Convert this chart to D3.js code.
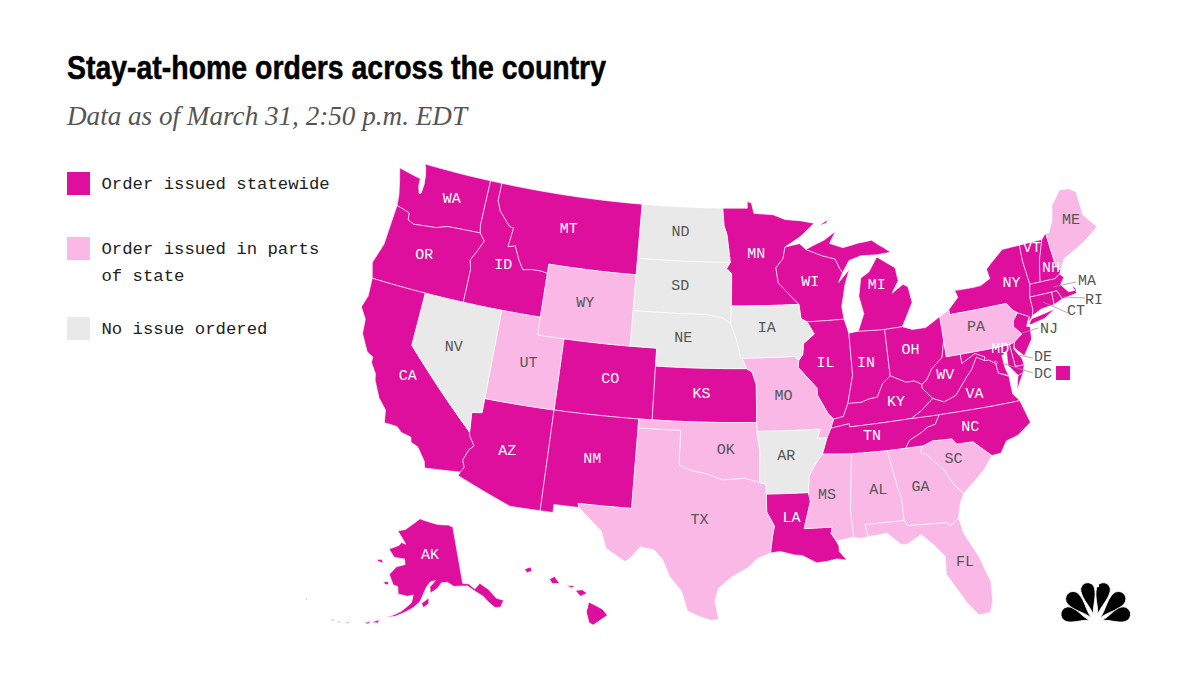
<!DOCTYPE html>
<html>
<head>
<meta charset="utf-8">
<script src="https://cdn.jsdelivr.net/npm/d3@7/dist/d3.min.js"></script>
<style>
  html, body { margin: 0; padding: 0; background: #fff; }
  svg { display: block; }
  .mono { font-family: "Liberation Mono", "DejaVu Sans Mono", monospace; }
</style>
</head>
<body>
<svg id="chart" width="1200" height="675"></svg>
<script>
var statewide = ['WA','OR','CA','ID','MT','CO','AZ','NM','KS','MN','WI','IL','IN','MI','OH','KY','TN','WV','VA','NC','LA','NY','VT','NH','MA','CT','RI','NJ','DE','MD','DC','AK','HI'];
var partial = ['UT','WY','MO','OK','TX','MS','AL','GA','SC','FL','PA','ME'];
var noOrder = ['NV','ND','SD','NE','IA','AR'];

var legendLabels = [['Order issued statewide'], ['Order issued in parts', 'of state'], ['No issue ordered']];
var titleText = 'Stay-at-home orders across the country';
var subtitleText = 'Data as of March 31, 2:50 p.m. EDT';

// state outlines as lon/lat rings, rough but hand checked against the picture
var stateShapes = {
  WA: [[[-124.7,48.38],[-124.4,47.7],[-124.1,46.9],[-124,46.3],[-123.4,46.2],[-122.9,46.1],[-122.8,45.7],[-122.3,45.55],[-121.2,45.65],[-120.5,45.7],[-119.6,45.92],[-119,45.95],[-116.92,46],[-117.04,46.42],[-117.03,49],[-122.76,49],[-122.6,48.8],[-122.45,48.4],[-122.35,47.9],[-122.4,47.35],[-122.55,47.3],[-122.75,47.7],[-122.8,48.13],[-123.2,48.17]]],
  OR: [[[-124,46.3],[-123.4,46.2],[-122.9,46.1],[-122.8,45.7],[-122.3,45.55],[-121.2,45.65],[-120.5,45.7],[-119.6,45.92],[-119,45.95],[-116.92,46],[-116.46,45.6],[-116.85,44.95],[-117.22,44.4],[-117.03,43.85],[-117.03,42],[-124.2,42],[-124.55,42.84],[-124.1,44]]],
  CA: [[[-124.2,42],[-120,42],[-120,39],[-114.63,35],[-114.57,34.8],[-114.14,34.3],[-114.43,34.05],[-114.72,33.4],[-114.52,33.03],[-114.72,32.72],[-117.12,32.53],[-117.25,32.9],[-117.9,33.6],[-118.4,33.75],[-118.5,34.03],[-119.2,34.15],[-119.6,34.42],[-120.5,34.45],[-120.65,35.15],[-121.3,35.7],[-121.9,36.6],[-122,36.95],[-122.5,37.5],[-122.5,37.8],[-123,38],[-123.7,38.9],[-123.8,39.7],[-124.35,40.3],[-124.1,41]]],
  NV: [[[-120,42],[-114.04,42],[-114.04,36.2],[-114.75,36.1],[-114.63,35],[-120,39]]],
  ID: [[[-117.03,49],[-116.05,49],[-116.05,48],[-115.7,47.45],[-114.7,46.7],[-114.35,46.65],[-114.5,45.56],[-113.95,45.7],[-113.45,44.95],[-113,44.45],[-112.3,44.55],[-111.5,44.55],[-111.05,44.48],[-111.05,42],[-117.03,42],[-117.03,43.85],[-117.22,44.4],[-116.85,44.95],[-116.46,45.6],[-116.92,46],[-117.04,46.42]]],
  MT: [[[-116.05,49],[-104.05,49],[-104.05,45],[-111.05,45],[-111.05,44.48],[-111.5,44.55],[-112.3,44.55],[-113,44.45],[-113.45,44.95],[-113.95,45.7],[-114.5,45.56],[-114.35,46.65],[-114.7,46.7],[-115.7,47.45],[-116.05,48]]],
  WY: [[[-111.05,45],[-104.05,45],[-104.05,41],[-111.05,41]]],
  UT: [[[-114.04,42],[-111.05,42],[-111.05,41],[-109.05,41],[-109.05,37],[-114.04,37]]],
  CO: [[[-109.05,41],[-102.05,41],[-102.05,37],[-109.05,37]]],
  AZ: [[[-114.04,37],[-109.05,37],[-109.05,31.33],[-111.07,31.33],[-114.81,32.5],[-114.72,32.72],[-114.52,33.03],[-114.72,33.4],[-114.43,34.05],[-114.14,34.3],[-114.57,34.8],[-114.63,35],[-114.75,36.1],[-114.04,36.2]]],
  NM: [[[-109.05,37],[-103,37],[-103.04,32],[-106.62,32],[-106.53,31.78],[-108.2,31.78],[-108.2,31.33],[-109.05,31.33]]],
  ND: [[[-104.05,49],[-97.23,49],[-97.1,48],[-96.85,47.5],[-96.56,45.94],[-104.05,45.94]]],
  SD: [[[-104.05,45.94],[-96.56,45.94],[-96.85,45.6],[-96.45,45.3],[-96.45,43.5],[-96.5,42.5],[-97.2,42.85],[-98.5,43],[-104.05,43]]],
  NE: [[[-104.05,43],[-98.5,43],[-97.2,42.85],[-96.5,42.5],[-96.1,41.7],[-95.85,41],[-95.31,40],[-102.05,40],[-102.05,41],[-104.05,41]]],
  KS: [[[-102.05,40],[-95.31,40],[-94.9,39.8],[-94.61,39.1],[-94.62,37],[-102.05,37]]],
  OK: [[[-103,37],[-94.62,37],[-94.62,36.5],[-94.43,35.4],[-94.48,33.64],[-95.5,33.9],[-97,33.8],[-98,34.1],[-99.2,34.3],[-100,34.56],[-100,36.5],[-103,36.5]]],
  TX: [[[-103,36.5],[-100,36.5],[-100,34.56],[-99.2,34.3],[-98,34.1],[-97,33.8],[-95.5,33.9],[-94.48,33.64],[-94.04,33.55],[-94.04,32],[-93.55,31.2],[-93.7,30.6],[-93.85,29.7],[-94.7,29.4],[-95.3,28.9],[-96.4,28.35],[-97.2,27.7],[-97.4,27],[-97.15,25.96],[-97.6,25.9],[-98.3,26.1],[-99.1,26.4],[-99.5,27.5],[-100.3,28.3],[-100.8,29.25],[-101.4,29.77],[-102.3,29.88],[-102.8,29.3],[-103.2,29],[-104.5,29.65],[-104.9,30.6],[-106.53,31.78],[-106.62,32],[-103.04,32]]],
  MN: [[[-97.23,49],[-95.15,49],[-95.15,49.38],[-94.8,49.3],[-94.6,48.7],[-93,48.6],[-92,48.3],[-90.8,48.2],[-89.6,48],[-90.8,47.3],[-92.1,46.75],[-92.3,46.1],[-92.9,45.6],[-92.75,44.75],[-91.2,43.5],[-96.45,43.5],[-96.45,45.3],[-96.85,45.6],[-96.56,45.94],[-96.85,47.5],[-97.1,48]]],
  IA: [[[-96.45,43.5],[-91.2,43.5],[-91.1,42.7],[-90.65,42.5],[-90.15,41.8],[-91,41.3],[-91.1,40.7],[-91.42,40.38],[-91.73,40.61],[-95.77,40.58],[-95.85,41],[-96.1,41.7],[-96.5,42.5]]],
  MO: [[[-95.77,40.58],[-91.73,40.61],[-91.42,40.38],[-91.5,40],[-90.75,39.3],[-90.2,38.8],[-90.2,38.4],[-89.5,37.3],[-89.15,37],[-89.4,36.5],[-89.7,36],[-90.37,36],[-90.15,36.5],[-94.62,36.5],[-94.62,37],[-94.61,39.1],[-94.9,39.8],[-95.31,40]]],
  AR: [[[-94.62,36.5],[-90.15,36.5],[-90.37,36],[-89.7,36],[-90.1,35.1],[-90.6,34.6],[-91.1,33.9],[-91.2,33],[-94.04,33],[-94.04,33.55],[-94.48,33.64],[-94.43,35.4]]],
  LA: [[[-94.04,33],[-91.2,33],[-91.1,32.5],[-91.6,31],[-89.75,31],[-89.85,30.65],[-89.55,30.2],[-89.4,29.9],[-89.4,29.6],[-88.95,29.1],[-89.6,29.2],[-90.2,29.1],[-90.9,29.05],[-91.8,29.5],[-92.3,29.55],[-93.2,29.77],[-93.85,29.7],[-93.7,30.6],[-93.55,31.2],[-94.04,32]]],
  MS: [[[-90.1,35.1],[-88.2,35],[-88.1,34.9],[-88.47,31.9],[-88.4,30.35],[-89.55,30.2],[-89.85,30.65],[-89.75,31],[-91.6,31],[-91.1,32.5],[-91.2,33],[-91.1,33.9],[-90.6,34.6]]],
  AL: [[[-88.2,35],[-85.6,34.98],[-85.18,32.87],[-85,32.3],[-85,31],[-87.6,31],[-87.45,30.3],[-88,30.25],[-88.4,30.35],[-88.47,31.9],[-88.1,34.9]]],
  GA: [[[-85.6,34.98],[-83.1,35],[-83.35,34.7],[-82.9,34.45],[-81.9,33.5],[-81.4,32.6],[-80.85,32.05],[-81.2,31.5],[-81.45,30.72],[-82.05,30.36],[-82.2,30.57],[-84.86,30.7],[-85,31],[-85,32.3],[-85.18,32.87]]],
  FL: [[[-87.6,31],[-85,31],[-84.86,30.7],[-82.2,30.57],[-82.05,30.36],[-81.45,30.72],[-81.25,29.8],[-80.55,28.45],[-80.05,26.9],[-80.15,25.75],[-80.4,25.2],[-81.1,25.15],[-81.7,25.9],[-82.15,26.7],[-82.75,27.7],[-82.65,28.7],[-83.3,29.45],[-84,30.1],[-85,29.65],[-85.4,29.7],[-86.2,30.4],[-87.45,30.3]]],
  SC: [[[-83.1,35],[-82.4,35.2],[-81.05,35.15],[-80.8,34.82],[-79.67,34.8],[-78.55,33.86],[-79.2,33.2],[-79.9,32.7],[-80.85,32.05],[-81.4,32.6],[-81.9,33.5],[-82.9,34.45],[-83.35,34.7]]],
  NC: [[[-84.32,34.99],[-83.1,35],[-82.4,35.2],[-81.05,35.15],[-80.8,34.82],[-79.67,34.8],[-78.55,33.86],[-77.9,33.9],[-77.4,34.5],[-76.5,34.7],[-75.5,35.25],[-75.9,36.55],[-81.68,36.59],[-82.05,36.1],[-82.6,36],[-83.1,35.75],[-84,35.4]]],
  TN: [[[-90.1,35.1],[-88.2,35],[-85.6,34.98],[-84.32,34.99],[-84,35.4],[-83.1,35.75],[-82.6,36],[-82.05,36.1],[-81.68,36.59],[-83.67,36.6],[-88.07,36.5],[-88.07,36.68],[-89.4,36.5],[-89.7,36]]],
  KY: [[[-89.4,36.5],[-88.07,36.68],[-88.07,36.5],[-83.67,36.6],[-82.9,36.95],[-81.97,37.54],[-82.6,38.17],[-82.6,38.4],[-83.1,38.65],[-83.7,38.63],[-84.8,39.1],[-85.4,38.73],[-85.9,38],[-86.5,37.95],[-87.1,37.8],[-88.05,37.8],[-88.45,37.1],[-89.15,37]]],
  VA: [[[-83.67,36.6],[-81.68,36.59],[-75.9,36.55],[-76.3,37],[-76.3,37.6],[-76.3,38],[-77,38.3],[-77.05,38.85],[-77.5,39.12],[-77.83,39.13],[-78.35,39.4],[-78.87,38.76],[-79.3,38.42],[-80.3,37.5],[-81.2,37.25],[-81.97,37.54],[-82.9,36.95]],
       [[-75.95,37.15],[-75.25,38.03],[-75.65,37.95]]],
  WV: [[[-81.97,37.54],[-81.2,37.25],[-80.3,37.5],[-79.3,38.42],[-78.87,38.76],[-78.35,39.4],[-77.83,39.13],[-77.72,39.32],[-78.4,39.62],[-79.48,39.2],[-79.48,39.72],[-80.52,39.72],[-80.52,40.64],[-80.85,39.7],[-81.7,39.2],[-82.2,38.6],[-82.6,38.4],[-82.6,38.17]]],
  OH: [[[-84.8,41.7],[-83.45,41.73],[-82.7,41.5],[-81.7,41.5],[-80.52,41.98],[-80.52,40.64],[-80.85,39.7],[-81.7,39.2],[-82.2,38.6],[-82.6,38.4],[-83.1,38.65],[-83.7,38.63],[-84.8,39.1]]],
  IN: [[[-87.53,41.7],[-86.8,41.76],[-84.8,41.7],[-84.8,39.1],[-85.4,38.73],[-85.9,38],[-86.5,37.95],[-87.1,37.8],[-88.05,37.8],[-87.53,39.35]]],
  IL: [[[-90.65,42.5],[-87.8,42.5],[-87.53,41.7],[-87.53,39.35],[-88.05,37.8],[-88.45,37.1],[-89.15,37],[-89.5,37.3],[-90.2,38.4],[-90.2,38.8],[-90.75,39.3],[-91.5,40],[-91.42,40.38],[-91.1,40.7],[-91,41.3],[-90.15,41.8]]],
  WI: [[[-92.75,44.75],[-92.9,45.6],[-92.3,46.1],[-92.1,46.75],[-90.9,46.9],[-90.4,46.55],[-89.1,46.13],[-88.1,45.9],[-87.8,45.35],[-87.6,45.1],[-88,44.55],[-87.05,45.25],[-87.5,44.4],[-87.9,43.2],[-87.8,42.5],[-90.65,42.5],[-91.1,42.7],[-91.2,43.5]]],
  MI: [[[-86.8,41.76],[-84.8,41.7],[-83.45,41.73],[-83.15,42.1],[-82.45,43],[-82.6,43.9],[-82.95,44.07],[-83.9,43.65],[-83.3,44.3],[-83.4,45.05],[-84.75,45.78],[-85.5,45],[-86.2,44.7],[-86.5,43.7],[-86.25,42.7]],
       [[-90.4,46.55],[-89.1,46.13],[-88.1,45.9],[-87.8,45.35],[-87.6,45.1],[-87,45.75],[-86,45.95],[-84.75,45.9],[-83.6,45.95],[-84.1,46.25],[-84.5,46.45],[-85,46.75],[-86.1,46.67],[-87.4,46.5],[-88.45,46.8],[-87.9,47.45],[-88.9,47],[-89.8,46.75]],
       [[-89.2,47.85],[-88.45,48.15],[-88.6,47.95]]],
  PA: [[[-80.52,41.98],[-79.76,42.27],[-79.76,42],[-75.35,42],[-75.05,41.6],[-74.7,41.36],[-75.15,40.95],[-75.2,40.65],[-74.73,40.15],[-75.4,39.8],[-75.79,39.72],[-80.52,39.72]]],
  NY: [[[-79.76,42.27],[-79.76,42],[-75.35,42],[-75.05,41.6],[-74.7,41.36],[-73.9,41],[-74,40.7],[-73.65,41],[-73.5,41.3],[-73.5,42.05],[-73.27,42.75],[-73.35,43.6],[-73.4,44.1],[-73.34,45.01],[-74.75,45],[-75.9,44.35],[-76.3,44.1],[-76.2,43.55],[-77,43.27],[-77.6,43.25],[-79.05,43.27],[-78.9,42.87]],
       [[-74.03,40.6],[-73.75,40.85],[-72.6,40.98],[-71.9,41.07],[-72.8,40.7],[-73.9,40.55]]],
  NJ: [[[-74.7,41.36],[-73.9,41],[-74.25,40.5],[-74,40.45],[-74.1,39.75],[-74.9,38.93],[-75.5,39.5],[-75.4,39.8],[-74.73,40.15],[-75.2,40.65],[-75.15,40.95]]],
  DE: [[[-75.79,39.72],[-75.4,39.8],[-75.55,39.45],[-75.1,38.8],[-75.05,38.45],[-75.7,38.46]]],
  MD: [[[-79.48,39.72],[-75.79,39.72],[-75.7,38.46],[-75.05,38.45],[-75.25,38.03],[-75.65,37.95],[-76.2,38.6],[-76.1,39.4],[-76.5,39.2],[-76.45,38.5],[-76.3,38.05],[-77,38.3],[-77.05,38.85],[-77.5,39.12],[-77.83,39.13],[-77.72,39.32],[-78.4,39.62],[-79.48,39.2]]],
  DC: [[[-77.12,38.93],[-77.04,39],[-76.91,38.89],[-77.04,38.79]]],
  CT: [[[-73.65,41],[-73.5,41.3],[-73.5,42.05],[-71.8,42.02],[-71.85,41.32],[-72.9,41.25]]],
  RI: [[[-71.8,42.02],[-71.38,42.02],[-71.15,41.5],[-71.85,41.32]]],
  MA: [[[-73.5,42.05],[-73.27,42.75],[-71.3,42.7],[-70.85,42.88],[-70.6,42.65],[-71,42.3],[-70.55,41.8],[-70.05,41.78],[-70.2,42.07],[-69.95,41.9],[-70,41.6],[-70.65,41.55],[-71.15,41.5],[-71.38,42.02],[-71.8,42.02]]],
  VT: [[[-73.27,42.75],[-72.46,42.73],[-72.1,43.9],[-71.5,45.01],[-73.34,45.01],[-73.4,44.1],[-73.35,43.6]]],
  NH: [[[-72.46,42.73],[-71.3,42.7],[-70.85,42.88],[-70.7,43.07],[-70.98,43.4],[-71.08,45.3],[-71.5,45.01],[-72.1,43.9]]],
  ME: [[[-70.7,43.07],[-70.2,43.65],[-69.1,44],[-68.2,44.3],[-67,44.85],[-67.45,45.3],[-67.8,45.7],[-67.8,47.07],[-68.3,47.35],[-69.05,47.43],[-70,46.7],[-70.3,45.9],[-70.85,45.25],[-71.08,45.3],[-70.98,43.4]]],
  AK: [[[-141,69.65],[-143,70.1],[-148,70.4],[-152,70.85],[-156.5,71.35],[-160,70.3],[-163,69.3],[-166.2,68.85],[-164,68],[-161.8,66.9],[-163.7,67.1],[-164.5,66.55],[-168.1,65.65],[-165.5,64.5],[-161.5,64.5],[-161,63.6],[-164,63.05],[-166,61.6],[-164,60],[-162.5,59.9],[-162,58.7],[-159,58.5],[-157.2,58.8],[-157.6,57.5],[-160.5,55.9],[-163,55],[-164.8,54.6],[-162,55],[-159.5,55.8],[-157,56.7],[-155,57.8],[-153.9,59.2],[-153,60.2],[-151.8,61],[-150,61.2],[-151.9,60.2],[-151.8,59.2],[-149.5,59.9],[-148,60.8],[-146,60.8],[-144,60],[-141.5,59.9],[-139.5,59.7],[-137.5,58.6],[-135.5,57.5],[-134,56],[-133,55.2],[-131.5,55],[-130,55.9],[-131.8,56.6],[-133.4,58.4],[-135.5,59.7],[-137.5,59],[-139,60],[-141,60.3]],
       [[-154.5,57.5],[-152.3,58.4],[-152.3,57.5],[-153.9,56.8]],
       [[-171.8,63.4],[-170,63.7],[-168.8,63.2],[-170.5,63.2]],
       [[-167.4,60.2],[-166,60.4],[-165.5,60],[-166.5,59.8]],
       [[-168.2,53.3],[-166.2,54],[-166.3,53.45]],
       [[-170,52.9],[-168.3,53.5],[-168.9,52.9]],
       [[-174.9,52.05],[-174,52.4],[-174.1,52.1]],
       [[-177,51.7],[-176.2,52],[-176.3,51.7]],
       [[-178.9,51.6],[-177.8,51.9],[-178,51.65]],
       [[-187.2,52.95],[-186.7,52.98],[-186.8,52.75]]],
  HI: [[[-155.9,20.25],[-155.1,19.85],[-154.8,19.5],[-155.65,18.95],[-155.9,19.1],[-156.05,19.7]],
       [[-156.7,20.9],[-156.3,20.95],[-156,20.75],[-156.4,20.58]],
       [[-157.3,21.2],[-156.75,21.17],[-156.9,21.05]],
       [[-158.25,21.55],[-157.95,21.7],[-157.65,21.3],[-158.1,21.3]],
       [[-159.75,22.1],[-159.4,22.23],[-159.3,22],[-159.6,21.9]]]
};

// where each state code sits, in lon/lat
var labelPlaces = {
  WA:[-119.85,47.55],OR:[-120.85,44.1],CA:[-119.75,37.35],NV:[-117,39.5],ID:[-114.6,44.55],MT:[-109.9,47.2],WY:[-107.8,43.2],UT:[-111.4,39.45],
  AZ:[-111.85,34.4],CO:[-105.3,39.15],NM:[-106,34.6],ND:[-100.7,47.65],SD:[-100.5,44.6],NE:[-100.1,41.7],KS:[-98.6,38.65],OK:[-96.8,35.55],
  TX:[-98.5,31.6],MN:[-94.45,46.45],IA:[-93.75,42.3],MO:[-92.65,38.5],AR:[-92.6,35.15],LA:[-92.4,31.7],WI:[-90.2,44.8],IL:[-89.45,40.2],
  MS:[-89.95,32.85],AL:[-86.5,32.9],TN:[-86.55,35.95],KY:[-84.6,37.7],IN:[-86.45,40.05],OH:[-83.05,40.45],MI:[-85,44.3],GA:[-83.65,32.8],
  FL:[-81.45,28.3],SC:[-81.15,34.1],NC:[-79.65,35.7],VA:[-78.95,37.5],WV:[-80.8,38.8],PA:[-77.95,41.1],NY:[-74.6,43.1],VT:[-72.4,44.75],
  NH:[-71.35,43.4],ME:[-68.8,45.7],MD:[-76.5,39.65],AK:[-151.8,65.6],HI:[-156.4,20.2]
};

// state codes that sit outside the map with a leader line, [code, text x, text y, line x1, y1, x2, y2]
var callouts = [
  ['MA',1087,280,1076,282,1053,287],
  ['RI',1094,299,1085,298,1063,297],
  ['CT',1076,310,1068,313,1043,302],
  ['NJ',1049,328,1038,328,1022,333],
  ['DE',1043,356,1033,358,1018,355],
  ['DC',1043,373,1033,373,1002,363]
];

var colorDark = '#de0f9c', colorLight = '#f9b8e5', colorGray = '#e9e9e9';
var legendColors = [colorDark, colorLight, colorGray];

var svg = d3.select('#chart');

var lower48 = d3.geoConicEqualArea().parallels([29.5, 45.5]).rotate([96, 0]).center([-0.6, 38.7])
  .scale(1020).translate([729, 392]);
var alaska = d3.geoConicEqualArea().parallels([55, 65]).rotate([152.5, 0]).center([-3.5, 58.5])
  .scale(350).translate([417, 597]);
var hawaii = d3.geoConicEqualArea().parallels([8, 18]).rotate([157, 0]).center([-3, 19.9])
  .scale(1020).translate([520, 608]);

function projectionFor(code) {
  if (code === 'AK') return alaska;
  if (code === 'HI') return hawaii;
  return lower48;
}

// long edges have to follow the parallels, so chop them up before d3 sees them
function densify(ring) {
  var out = [];
  ring.forEach(function (p, i) {
    var q = ring[(i + 1) % ring.length];
    var steps = Math.ceil(Math.abs(q[0] - p[0]));
    if (steps < 1) steps = 1;
    for (var s = 0; s < steps; s++) {
      out.push([p[0] + (q[0] - p[0]) * s / steps, p[1] + (q[1] - p[1]) * s / steps]);
    }
  });
  return out;
}

function toPolygon(ring) {
  var pts = densify(ring);
  pts.push(pts[0]);
  // d3 wants clockwise rings, otherwise it fills the rest of the globe
  if (d3.geoArea({type: 'Polygon', coordinates: [pts]}) > 2 * Math.PI) pts.reverse();
  return [pts];
}

function statusOf(code) {
  if (statewide.indexOf(code) > -1) return 0;
  if (partial.indexOf(code) > -1) return 1;
  return 2;
}

var codes = statewide.concat(partial, noOrder);

svg.append('g').selectAll('path').data(codes)
  .enter().append('path')
  .attr('d', function (code) {
    var geo = {type: 'MultiPolygon', coordinates: stateShapes[code].map(toPolygon)};
    return d3.geoPath(projectionFor(code))(geo);
  })
  .attr('fill', function (code) { return legendColors[statusOf(code)]; })
  .attr('stroke', '#fff')
  .attr('stroke-width', 0.6)
  .attr('stroke-linejoin', 'round');

// state codes
var labelColors = ['#fff', '#555', '#555'];
svg.append('g').selectAll('text').data(Object.keys(labelPlaces))
  .enter().append('text')
  .attr('class', 'mono')
  .attr('x', function (code) { return projectionFor(code)(labelPlaces[code])[0]; })
  .attr('y', function (code) { return projectionFor(code)(labelPlaces[code])[1]; })
  .attr('dy', '0.35em')
  .attr('text-anchor', 'middle')
  .attr('font-size', 15)
  .attr('fill', function (code) { return labelColors[statusOf(code)]; })
  .text(function (code) { return code; });

// leader lines
svg.append('g').selectAll('line').data(callouts)
  .enter().append('line')
  .attr('x1', function (d) { return d[3]; })
  .attr('y1', function (d) { return d[4]; })
  .attr('x2', function (d) { return d[5]; })
  .attr('y2', function (d) { return d[6]; })
  .attr('stroke', '#999')
  .attr('stroke-width', 0.8);

svg.append('g').selectAll('text').data(callouts)
  .enter().append('text')
  .attr('class', 'mono')
  .attr('x', function (d) { return d[1]; })
  .attr('y', function (d) { return d[2]; })
  .attr('dy', '0.35em')
  .attr('text-anchor', 'middle')
  .attr('font-size', 15)
  .attr('fill', '#555')
  .text(function (d) { return d[0]; });

// DC has no room on the map, so it gets its own square
svg.append('rect').attr('x', 1056).attr('y', 366).attr('width', 14).attr('height', 14)
  .attr('fill', legendColors[statusOf('DC')]);

// title block
svg.append('text')
  .attr('x', 67).attr('y', 79)
  .attr('font-family', '"Liberation Sans", Arial, sans-serif')
  .attr('font-weight', 700)
  .attr('font-size', 34)
  .attr('textLength', 539)
  .attr('lengthAdjust', 'spacingAndGlyphs')
  .attr('fill', '#000')
  .attr('stroke', '#000')
  .attr('stroke-width', 0.5)
  .text(titleText);

svg.append('text')
  .attr('x', 67).attr('y', 125)
  .attr('font-family', '"Liberation Serif", Georgia, serif')
  .attr('font-style', 'italic')
  .attr('font-size', 28)
  .attr('textLength', 400)
  .attr('lengthAdjust', 'spacingAndGlyphs')
  .attr('fill', '#555')
  .text(subtitleText);

// legend
var legendTops = [172, 237, 317];
var legend = svg.append('g').selectAll('g').data(legendLabels)
  .enter().append('g')
  .attr('transform', function (d, i) { return 'translate(67,' + legendTops[i] + ')'; });

legend.append('rect')
  .attr('width', 23).attr('height', 23)
  .attr('fill', function (d, i) { return legendColors[i]; });

legend.selectAll('text').data(function (d) { return d; })
  .enter().append('text')
  .attr('class', 'mono')
  .attr('x', 34.5)
  .attr('y', function (d, i) { return 17 + i * 27; })
  .attr('font-size', 17.3)
  .attr('fill', '#222')
  .text(function (d) { return d; });

// peacock logo, [base x, base y, angle from straight up, length, half width]
var feathers = [
  [1090, 620.5, -74, 30, 7.5],
  [1091.5, 618, -44, 34, 7.5],
  [1093.5, 615, -13, 33, 7],
  [1097.5, 615, 13, 33, 7],
  [1100, 618, 44, 34, 7.5],
  [1101.5, 620.5, 74, 30, 7.5]
];

svg.append('g').selectAll('path').data(feathers)
  .enter().append('path')
  .attr('transform', function (d) { return 'translate(' + d[0] + ',' + d[1] + ') rotate(' + d[2] + ')'; })
  .attr('d', function (d) {
    var l = d[3], w = d[4];
    return 'M0,0 C' + (-w * 0.2) + ',' + (-l * 0.3) + ' ' + (-w) + ',' + (-l * 0.5) + ' ' + (-w) + ',' + (-l + w) +
      ' A' + w + ',' + w + ' 0 0 1 ' + w + ',' + (-l + w) +
      ' C' + w + ',' + (-l * 0.5) + ' ' + (w * 0.2) + ',' + (-l * 0.3) + ' 0,0 Z';
  })
  .attr('fill', '#000')
  .attr('stroke', '#fff')
  .attr('stroke-width', 0.8);
// the little head cut out of the top right feather
svg.append('circle').attr('cx', 1098).attr('cy', 586).attr('r', 1.2).attr('fill', '#fff');
</script>
</body>
</html>
